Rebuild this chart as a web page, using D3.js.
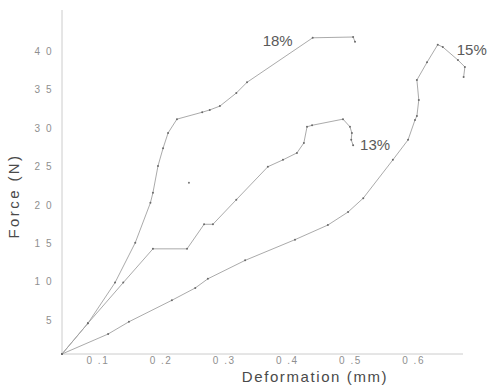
<!DOCTYPE html>
<html>
<head>
<meta charset="utf-8">
<script src="https://cdn.jsdelivr.net/npm/d3@7"></script>
<style>
  body { margin: 0; background: #fff; }
  text { font-family: Arial, "Liberation Sans", sans-serif; }
</style>
</head>
<body>
<svg id="chart" width="489" height="385"></svg>
<script>
// values (deformation mm, force N)
const curve18 = [
  [0.044, 0], [0.085, 4.0], [0.128, 9.3], [0.160, 14.5], [0.184, 19.7], [0.188, 21.0],
  [0.196, 24.5], [0.204, 26.8], [0.212, 28.8], [0.226, 30.6], [0.266, 31.5], [0.278, 31.8],
  [0.294, 32.3], [0.320, 34.0], [0.337, 35.4], [0.441, 41.2], [0.505, 41.3], [0.508, 40.7]
];
const curve13 = [
  [0.044, 0], [0.085, 4.0], [0.141, 9.3], [0.188, 13.7], [0.242, 13.7], [0.269, 16.9],
  [0.283, 16.9], [0.320, 20.1], [0.370, 24.4], [0.394, 25.3], [0.416, 26.2], [0.427, 27.5],
  [0.432, 29.6], [0.440, 29.8], [0.489, 30.6], [0.500, 29.6], [0.503, 28.8], [0.502, 27.9],
  [0.505, 27.2]
];
const curve15 = [
  [0.044, 0], [0.117, 2.6], [0.150, 4.2], [0.218, 7.0], [0.255, 8.6], [0.275, 9.8],
  [0.334, 12.2], [0.413, 14.9], [0.465, 16.8], [0.497, 18.5], [0.521, 20.3], [0.568, 25.3],
  [0.592, 27.9], [0.603, 30.5], [0.606, 31.0], [0.609, 33.1], [0.606, 35.7], [0.622, 38.0],
  [0.639, 40.3], [0.647, 40.0], [0.671, 38.3], [0.682, 37.4], [0.680, 36.1]
];
const strayPoints = [[0.245, 22.3]];

const seriesNames = ['18%', '13%', '15%'];
const xTickValues = [0.1, 0.2, 0.3, 0.4, 0.5, 0.6];
const xTickLabels = ['0 .1', '0 .2', '0 .3', '0 .4', '0 .5', '0 .6'];
const yTickValues = [5, 10, 15, 20, 25, 30, 35, 40];
const yTickLabels = ['5', '1 0', '1 5', '2 0', '2 5', '3 0', '3 5', '4 0'];

const svg = d3.select('#chart');

const x = d3.scaleLinear().domain([0.044, 0.679]).range([62, 463]);
const y = d3.scaleLinear().domain([0, 40]).range([354, 47]);

// axes (no tick marks on the original)
const xAxis = d3.axisBottom(x).tickValues(xTickValues)
  .tickFormat((d, i) => xTickLabels[i]).tickSize(0).tickPadding(3);
const yAxis = d3.axisLeft(y).tickValues(yTickValues)
  .tickFormat((d, i) => yTickLabels[i]).tickSize(0).tickPadding(9);

const gx = svg.append('g').attr('transform', 'translate(0,354)').call(xAxis);
const gy = svg.append('g').attr('transform', 'translate(62,0)').call(yAxis);

gx.select('.domain').attr('stroke', '#cccccc').attr('d', 'M62,0H463');
gy.select('.domain').attr('stroke', '#cccccc').attr('d', 'M0,10V354');

svg.selectAll('.tick text')
  .attr('fill', '#8f8f8f')
  .style('font-size', '10px')
  .style('letter-spacing', '1.5px');
gy.selectAll('.tick text').attr('dy', '0.75em');

// axis titles
svg.append('text')
  .attr('x', 315).attr('y', 382)
  .attr('text-anchor', 'middle')
  .attr('fill', '#4a4a4a')
  .style('font-size', '15px')
  .style('letter-spacing', '1.6px')
  .text('Deformation (mm)');

svg.append('text')
  .attr('transform', 'translate(19,196) rotate(-90)')
  .attr('text-anchor', 'middle')
  .attr('fill', '#4a4a4a')
  .style('font-size', '15px')
  .style('letter-spacing', '2.4px')
  .text('Force (N)');

const line = d3.line()
  .x(d => x(d[0]))
  .y(d => y(d[1]));

const curves = [curve18, curve13, curve15];

curves.forEach((data, i) => {
  const g = svg.append('g');
  g.append('path')
    .datum(data)
    .attr('fill', 'none')
    .attr('stroke', '#a0a0a0')
    .attr('stroke-width', 0.9)
    .attr('d', line);
  g.selectAll('circle')
    .data(data)
    .enter().append('circle')
    .attr('cx', d => x(d[0]))
    .attr('cy', d => y(d[1]))
    .attr('r', 1)
    .attr('fill', '#6a6a6a');
});

svg.selectAll('.stray')
  .data(strayPoints)
  .enter().append('circle')
  .attr('class', 'stray')
  .attr('cx', d => x(d[0]))
  .attr('cy', d => y(d[1]))
  .attr('r', 1)
  .attr('fill', '#777');

// curve labels, anchored to a point of each curve
const labelAnchors = [
  { data: curve18, idx: 15, dx: -20, dy: 8, anchor: 'end' },
  { data: curve13, idx: curve13.length - 1, dx: 7, dy: 5, anchor: 'start' },
  { data: curve15, idx: 18, dx: 19, dy: 10, anchor: 'start' }
];

labelAnchors.forEach((a, i) => {
  const p = a.data[a.idx];
  svg.append('text')
    .attr('x', x(p[0]) + a.dx)
    .attr('y', y(p[1]) + a.dy)
    .attr('text-anchor', a.anchor)
    .attr('fill', '#5a5a5a')
    .style('font-size', '15px')
    .text(seriesNames[i]);
});
</script>
</body>
</html>
